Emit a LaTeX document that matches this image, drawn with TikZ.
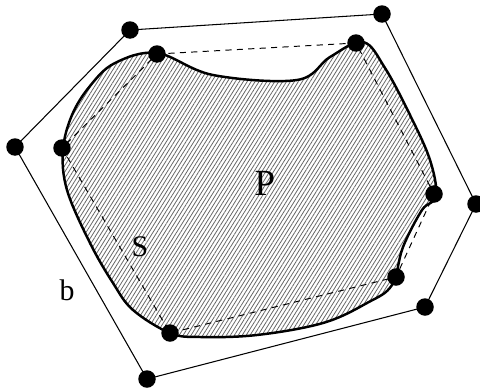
\documentclass[tikz,border=0pt]{standalone}
\usepackage{fontspec}
\setmainfont{Liberation Serif}
\usetikzlibrary{patterns.meta}

\tikzset{vtx/.style={circle,fill=black,inner sep=0pt,minimum size=0.35cm},
 hatch/.style={pattern={Lines[angle=58,distance=1.9pt,line width=0.45pt]},pattern color=black!60}}

\begin{document}
\begin{tikzpicture}[x=0.02cm,y=-0.02cm]
\useasboundingbox (0,0) rectangle (480,389);

% the region P
\draw[line width=1.4pt,hatch] plot[smooth cycle,tension=0.6] coordinates {
 (157,53) (213,75) (297,80) (330,57) (363,42) (385,68) (410,115) (430,160)
 (436,196) (422,210) (403,247) (392,285) (367,303) (323,323) (257,335)
 (200,337) (170,333) (133,310) (113,283) (90,243) (67,190) (63,150)
 (72,115) (90,86) (115,63)};

% inner points
 \coordinate (s1) at (157,54);
 \coordinate (s2) at (356,43);
 \coordinate (s3) at (434,194);
 \coordinate (s4) at (396,277);
 \coordinate (s5) at (170,333);
 \coordinate (s6) at (62,148);

% outer points
 \coordinate (b1) at (15,147);
 \coordinate (b2) at (130,30);
 \coordinate (b3) at (382,14);
 \coordinate (b4) at (476,204);
 \coordinate (b5) at (425,307);
 \coordinate (b6) at (147,379);

\draw[dash pattern=on 3.5pt off 3pt,line width=0.55pt] (s1) -- (s2) -- (s3) -- (s4) -- (s5) -- (s6) -- cycle;
\draw[line width=0.6pt] (b1) -- (b2) -- (b3) -- (b4) -- (b5) -- (b6) -- cycle;

\foreach \p in {s1,s2,s3,s4,s5,s6,b1,b2,b3,b4,b5,b6}
 \node[vtx] at (\p) {};

\node (P) at (265,183) {\fontsize{21}{24}\selectfont P};
\node (S) at (140,247) {\fontsize{17}{20}\selectfont S};
\node (b) at (67,290) {\fontsize{17}{20}\selectfont b};
\end{tikzpicture}
\end{document}
